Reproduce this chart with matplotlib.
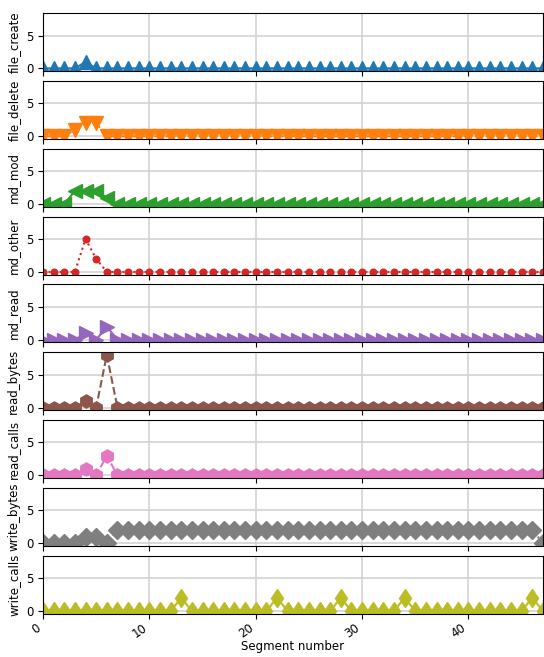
import matplotlib
matplotlib.use("Agg")
import matplotlib.pyplot as plt
import numpy as np

plt.rcParams["font.size"] = 8.5

segments = list(range(48))

# non-zero values per metric, everything else is 0
file_create = [0] * 48
file_create[4] = 1

file_delete = [0] * 48
file_delete[3] = 1
file_delete[4] = 2
file_delete[5] = 2

md_mod = [0] * 48
md_mod[3] = 2
md_mod[4] = 2
md_mod[5] = 2
md_mod[6] = 1

md_other = [0] * 48
md_other[4] = 5
md_other[5] = 2

md_read = [0] * 48
md_read[4] = 1
md_read[6] = 2

read_bytes = [0] * 48
read_bytes[4] = 1
read_bytes[6] = 8

read_calls = [0] * 48
read_calls[4] = 1
read_calls[6] = 3

write_bytes = [0, 0, 0, 0, 1, 1, 0] + [2] * 40 + [0]

write_calls = [0] * 48
for i in [13, 22, 28, 34, 46]:
    write_calls[i] = 2

names = ["file_create", "file_delete", "md_mod", "md_other", "md_read",
         "read_bytes", "read_calls", "write_bytes", "write_calls"]
series = [file_create, file_delete, md_mod, md_other, md_read,
          read_bytes, read_calls, write_bytes, write_calls]
markers = ["^", "v", "<", ".", ">", "h", "h", "D", "d"]
styles = ["-", "--", "-.", ":"]
colors = plt.rcParams["axes.prop_cycle"].by_key()["color"]

fig, axes = plt.subplots(9, 1, sharex=True, sharey=True, figsize=(5.44, 6.57), dpi=100)
fig.subplots_adjust(left=0.079, right=0.998, top=0.980, bottom=0.066, hspace=0.17)

for i, ax in enumerate(axes):
    ax.plot(segments, series[i], color=colors[i], marker=markers[i],
            linestyle=styles[i % 4], markersize=9.5)
    ax.set_ylabel(names[i])
    ax.grid(True, color="lightgray", linewidth=1.2)
    ax.set_axisbelow(True)

axes[0].set_xlim(0, 47)
axes[0].set_ylim(-0.4, 8.4)
axes[0].set_yticks([0, 5])
axes[-1].set_xticks([0, 10, 20, 30, 40])
for lbl in axes[-1].get_xticklabels():
    lbl.set_rotation(35)
    lbl.set_ha("right")
axes[-1].tick_params(axis="x", pad=2)
axes[-1].set_xlabel("Segment number", labelpad=0)

fig.savefig("out.png")
